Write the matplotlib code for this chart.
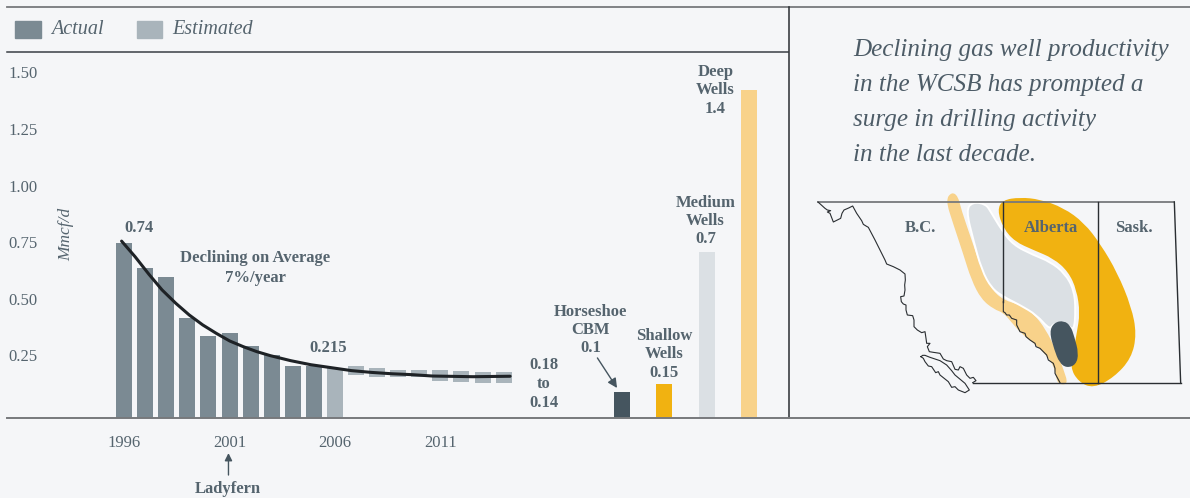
import numpy as np
import matplotlib
matplotlib.use('Agg')
import matplotlib.pyplot as plt
from matplotlib.lines import Line2D
from matplotlib.patches import PathPatch, Rectangle
from matplotlib.path import Path

plt.rcParams['font.family'] = ['Liberation Serif', 'DejaVu Serif']

# chart values
actual_years = [1996, 1997, 1998, 1999, 2000, 2001, 2002, 2003, 2004, 2005]
actual_vals = [0.747, 0.635, 0.595, 0.414, 0.334, 0.347, 0.290, 0.250, 0.203, 0.203]
est_year = [2006]
est_val = [0.191]
range_years = [2007, 2008, 2009, 2010, 2011, 2012, 2013, 2014]
range_high = [0.201, 0.192, 0.184, 0.184, 0.184, 0.179, 0.175, 0.175]
range_low = [0.162, 0.154, 0.154, 0.154, 0.135, 0.131, 0.126, 0.126]

trend_years = [1995.88, 1996.52, 1997.17, 1997.80, 1998.45, 1999.09, 1999.73, 2000.37,
               2001.01, 2001.65, 2002.29, 2002.94, 2003.90, 2004.86, 2005.82, 2006.78,
               2007.74, 2008.71, 2009.67, 2010.63, 2012.55, 2014.31]
trend_vals = [0.754, 0.685, 0.608, 0.538, 0.479, 0.427, 0.383, 0.346,
              0.312, 0.287, 0.265, 0.247, 0.225, 0.207, 0.194, 0.181,
              0.173, 0.167, 0.163, 0.157, 0.154, 0.156]

well_vals = [0.086, 0.122, 0.706, 1.422]
well_colors = ['#45555f', '#f1b211', '#dbe0e4', '#f8d28a']

y_ticks = [0.25, 0.50, 0.75, 1.00, 1.25, 1.50]
x_ticks = [1996, 2001, 2006, 2011]

# map outlines, in map units
amber_shape = [(622, 90), (638, 60), (690, 52), (750, 58), (820, 83), (882, 128), (932, 193),
               (982, 278), (1024, 380), (1040, 462), (1024, 535), (972, 592), (910, 625),
               (866, 606), (840, 562), (853, 500), (860, 460), (870, 400), (860, 330),
               (835, 275), (790, 235), (730, 210), (675, 185), (640, 145)]
pale_strip = [(485, 36), (504, 48), (514, 90), (545, 180), (575, 270), (605, 328), (640, 360),
              (695, 376), (732, 402), (767, 448), (797, 508), (822, 572), (834, 612),
              (808, 614), (798, 595), (793, 560), (768, 525), (738, 495), (693, 460),
              (663, 425), (640, 398), (612, 388), (574, 358), (544, 300), (519, 220),
              (489, 130), (467, 60)]
grey_shape = [(528, 90), (548, 66), (587, 72), (602, 95), (635, 150), (670, 195), (730, 225),
              (780, 245), (825, 280), (852, 330), (857, 390), (852, 455), (830, 430),
              (790, 430), (780, 450), (740, 405), (690, 375), (640, 350), (605, 325),
              (575, 270), (550, 180)]
dark_shape = [(778, 455), (793, 427), (822, 422), (842, 438), (853, 470), (866, 520),
              (858, 554), (830, 564), (808, 548), (793, 510)]

coast_x = [84, 105, 112, 122, 112, 120, 130, 142, 152, 156, 162, 176, 188, 200, 215, 220, 228, 235,
           255, 275, 285, 290, 310, 330, 345, 346, 344, 345, 342, 332, 334, 340, 348, 348, 352, 368,
           372, 372, 382, 395, 405, 408, 410, 420, 412, 418, 430, 450, 460, 470, 485, 495, 505, 510,
           520, 530, 540, 550, 558, 548]
coast_y = [66, 85, 90, 92, 96, 100, 126, 120, 115, 100, 90, 84, 78, 100, 122, 133, 138, 142,
           180, 220, 240, 252, 260, 270, 282, 300, 315, 330, 348, 350, 365, 372, 375, 390, 405, 407,
           420, 440, 450, 458, 455, 475, 490, 490, 500, 515, 517, 520, 537, 542, 545, 568, 570, 560,
           565, 585, 595, 592, 602, 608]
island_x = [393, 398, 405, 420, 450, 470, 485, 495, 525, 538, 525, 505, 495, 485, 475, 450, 445, 437, 425, 415, 405, 400]
island_y = [530, 526, 526, 532, 542, 555, 572, 585, 610, 630, 638, 630, 620, 622, 605, 585, 575, 578, 560, 558, 545, 535]
rockies_x = [640, 640, 645, 650, 658, 665, 680, 680, 690, 705, 708, 720, 735, 738, 750, 770, 775, 790, 795, 795, 810]
rockies_y = [365, 395, 398, 405, 405, 415, 420, 435, 455, 460, 470, 480, 490, 500, 505, 525, 540, 550, 565, 580, 608]

bg = '#f5f6f8'
actual_col = '#7b8a93'
est_col = '#a9b4bb'
text_col = '#55646e'
W, H = 1190, 498


def closed_spline(points):
    # quadratic pieces through the midpoints, gives the rounded blobs
    pts = np.array(points, dtype=float)
    mids = (pts + np.roll(pts, -1, axis=0)) / 2
    verts = [mids[-1]]
    codes = [Path.MOVETO]
    for p, m in zip(pts, mids):
        verts += [p, m]
        codes += [Path.CURVE3, Path.CURVE3]
    return Path(verts, codes)


def fig_line(fig, x0, y0, x1, y1, color, lw):
    fig.add_artist(Line2D([x0 / W, x1 / W], [1 - y0 / H, 1 - y1 / H], color=color, lw=lw))


fig = plt.figure(figsize=(11.9, 4.98), dpi=100, facecolor=bg)

# bars hang off a floor a little under the printed zero, same as the original
floor = -0.0265
ax = fig.add_axes([7 / W, (H - 417.5) / H, 781 / W, 365.5 / H], facecolor='none')
ax.set_xlim(1990.445, 2027.49)
ax.set_ylim(floor, 1.5907)
for s in ax.spines.values():
    s.set_visible(False)

bw = 0.76
ax.bar(actual_years, np.array(actual_vals) - floor, bw, bottom=floor, color=actual_col)
ax.bar(est_year, np.array(est_val) - floor, bw, bottom=floor, color=est_col)
ax.bar(range_years, np.array(range_high) - np.array(range_low), bw, bottom=range_low, color=est_col)
ax.plot(trend_years, trend_vals, color='#1e2226', lw=2.2, solid_capstyle='round')

well_pos = 2019.62 + 2.007 * np.arange(4)
ax.bar(well_pos, np.array(well_vals) - floor, bw, bottom=floor, color=well_colors)

ax.set_yticks(y_ticks)
ax.set_yticklabels(['%.2f' % t for t in y_ticks], ha='left')
ax.set_xticks(x_ticks)
ax.set_xticklabels([str(t) for t in x_ticks])
ax.tick_params(axis='y', length=0, pad=-1, labelsize=12, labelcolor=text_col)
ax.tick_params(axis='x', length=0, pad=12.5, labelsize=12, labelcolor=text_col)


def label(x, y, s, spacing=1.2):
    ax.text(x, y, s, ha='center', va='center', fontsize=12, fontweight='bold',
            color=text_col, linespacing=spacing, clip_on=False)


label(1996.7, 0.814, '0.74')
label(2002.21, 0.635, 'Declining on Average\n7%/year', 1.35)
label(2005.67, 0.281, '0.215')
label(2015.92, 0.122, '0.18\nto\n0.14', 1.25)
label(2018.13, 0.361, 'Horseshoe\nCBM\n0.1')
label(2021.61, 0.254, 'Shallow\nWells\n0.15')
label(2023.58, 0.843, 'Medium\nWells\n0.7')
label(2024.05, 1.422, 'Deep\nWells\n1.4')
label(2000.93, -0.343, 'Ladyfern')
ax.text(1993.24, 0.785, 'Mmcf/d', rotation=90, style='italic', fontsize=12.5, color=text_col,
        ha='center', va='center')

ax.annotate('', xy=(2000.95, -0.184), xytext=(2000.95, -0.281), annotation_clip=False,
            arrowprops=dict(arrowstyle='-|>', color='#45555f', lw=1, mutation_scale=11, shrinkA=0, shrinkB=0))
ax.annotate('', xy=(2019.38, 0.104), xytext=(2018.45, 0.237), annotation_clip=False,
            arrowprops=dict(arrowstyle='-|>', color='#45555f', lw=1, mutation_scale=14, shrinkA=0, shrinkB=0))

# legend strip
fig.add_artist(Rectangle((15 / W, 1 - 38 / H), 26 / W, 17 / H, color=actual_col, transform=fig.transFigure))
fig.add_artist(Rectangle((137 / W, 1 - 38 / H), 25 / W, 17 / H, color=est_col, transform=fig.transFigure))
fig.text(51 / W, 1 - 30 / H, 'Actual', style='italic', fontsize=14.5, color=text_col, va='center')
fig.text(172 / W, 1 - 30 / H, 'Estimated', style='italic', fontsize=14.5, color=text_col, va='center')

# rules
fig_line(fig, 7, 7, W, 7, '#77797c', 1.3)
fig_line(fig, 7, 52.5, 788, 52.5, '#3a3f44', 1.1)
fig_line(fig, 788.5, 7, 788.5, 417.5, '#2a2e32', 1.1)
fig_line(fig, 7, 417.5, W, 417.5, '#77797c', 1.4)

# side text
lines = ['Declining gas well productivity', 'in the WCSB has prompted a',
         'surge in drilling activity', 'in the last decade.']
for i, line in enumerate(lines):
    fig.text(853 / W, 1 - (50 + 35 * i) / H, line, style='italic', fontsize=18.1, color='#4d5c67', va='center')

# map panel, units are 1/3 px
mp = fig.add_axes([790 / W, (H - 400) / H, 400 / W, 220 / H], facecolor='none')
mp.set_xlim(0, 1200)
mp.set_ylim(660, 0)
mp.axis('off')

mp.add_patch(PathPatch(closed_spline(amber_shape), fc='#f1b211', ec='none'))
mp.add_patch(PathPatch(closed_spline(pale_strip), fc='#f8d28a', ec='none'))
mp.add_patch(PathPatch(closed_spline(grey_shape), fc='#dbe0e4', ec='white', lw=1.4))
mp.add_patch(PathPatch(closed_spline(dark_shape), fc='#45555f', ec='none'))

mp.plot([84, 1153], [66, 66], color='#77797c', lw=1.3)
mp.plot([640, 640], [66, 365], color='#2a2e32', lw=1)
mp.plot([925, 925], [66, 610], color='#2a2e32', lw=1)
mp.plot([1153, 1172], [66, 610], color='#2a2e32', lw=1)
mp.plot([548, 1172], [610, 610], color='#2a2e32', lw=1)
mp.plot(coast_x, coast_y, color='#2a2e32', lw=0.8)
mp.plot(island_x + island_x[:1], island_y + island_y[:1], color='#2a2e32', lw=0.8)
mp.plot(rockies_x, rockies_y, color='#2a2e32', lw=0.8)

for x, s in [(390, 'B.C.'), (782, 'Alberta'), (1031, 'Sask.')]:
    mp.text(x, 143, s, ha='center', va='center', fontsize=12, fontweight='bold', color='#55646e')

fig.savefig('out.png', dpi=100, facecolor=bg)
